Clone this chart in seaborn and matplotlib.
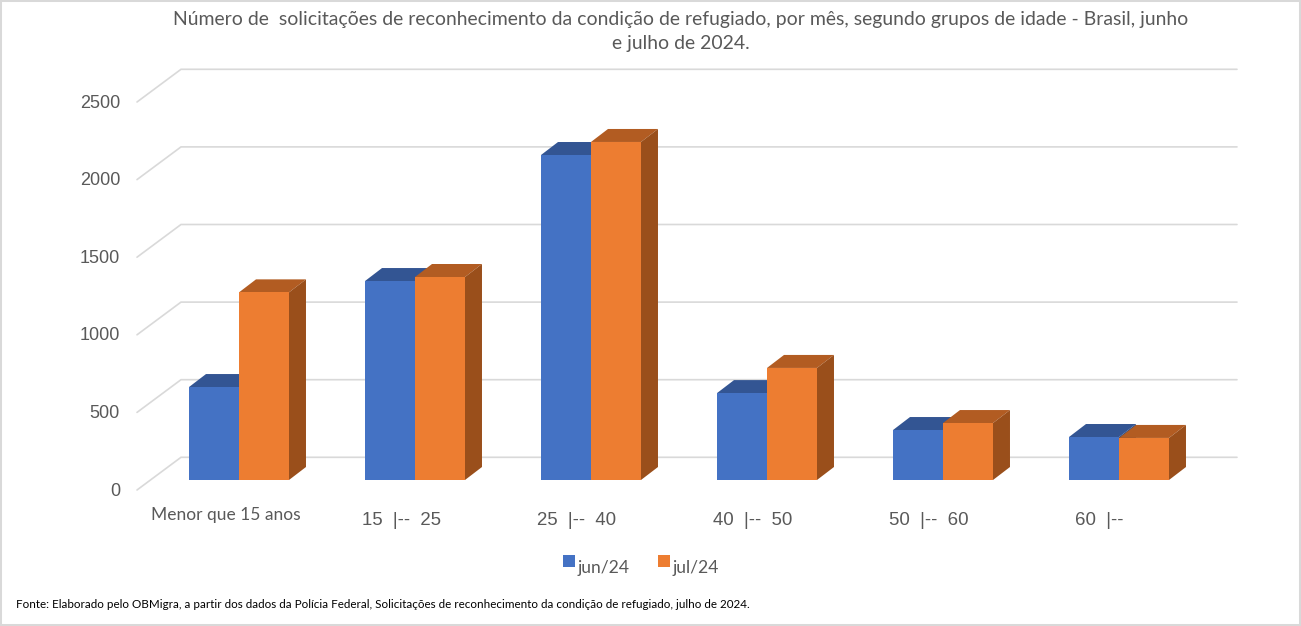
import matplotlib
matplotlib.use("Agg")
import matplotlib.pyplot as plt
import pandas as pd
import seaborn as sns
from matplotlib.patches import Polygon, Rectangle
from matplotlib.transforms import ScaledTranslation

# --------------------------
# Data
# --------------------------
age_groups = ["Menor que 15 anos", "15  |--  25", "25  |--  40", "40  |--  50", "50  |--  60", "60  |--"]
jun_24 = [599, 1282, 2094, 560, 322, 277]
jul_24 = [1209, 1308, 2178, 722, 367, 271]
y_ticks = [0, 500, 1000, 1500, 2000, 2500]
title = (
    "Número de  solicitações de reconhecimento da condição de refugiado, por mês, segundo grupos de idade - Brasil, junho\n"
    "e julho de 2024."
)
source = (
    "Fonte: Elaborado pelo OBMigra, a partir dos dados da Polícia Federal, "
    "Solicitações de reconhecimento da condição de refugiado, julho de 2024."
)

df = pd.DataFrame({"grupo": age_groups, "jun/24": jun_24, "jul/24": jul_24}).melt(
    id_vars="grupo", var_name="mes", value_name="n"
)

W, H = 1301, 626
PX_X = 176.0  # pixels per category
PX_Y = 388.0 / 2500  # pixels per unit
TEXT = "#595959"
GRID = "#d9d9d9"

sns.set_theme(style="white")
plt.rcParams["font.family"] = ["Lato", "DejaVu Sans"]

fig = plt.figure(figsize=(W / 100, H / 100), dpi=100)
ax = fig.add_axes([151 / W, (H - 480) / H, 1056 / W, 388 / H])

front = {"jun/24": "#4472c4", "jul/24": "#ed7d31"}
sns.barplot(
    data=df, x="grupo", y="n", hue="mes", palette=front, saturation=1,
    width=0.568, gap=0, ax=ax, zorder=4, linewidth=0,
)
ax.set_xlim(-0.5, 5.5)
ax.set_ylim(0, 2500)
ax.set_xlabel("")
ax.set_ylabel("")
sns.despine(ax=ax, left=True, bottom=True)

# --------------------------
# Fake 3D: top and side faces on each bar
# --------------------------
dx = 17 / PX_X
dy = 13 / PX_Y
tops = {"jun/24": "#335593", "jul/24": "#b25c22"}
sides = {"jun/24": "#2c4a80", "jul/24": "#9a4f1b"}
for container, mes, z in zip(ax.containers, ["jun/24", "jul/24"], [2, 3]):
    for bar in container:
        x0, x1, h = bar.get_x(), bar.get_x() + bar.get_width(), bar.get_height()
        ax.add_patch(Polygon([(x0, h), (x1, h), (x1 + dx, h + dy), (x0 + dx, h + dy)],
                             color=tops[mes], lw=0, zorder=z, clip_on=False))
        ax.add_patch(Polygon([(x1, 0), (x1 + dx, dy), (x1 + dx, h + dy), (x1, h)],
                             color=sides[mes], lw=0, zorder=z, clip_on=False))

# Gridlines run along the floor/left wall, then across the back wall
gx_front, gy_front = -14 / PX_X, -10 / PX_Y
gx_back, gy_back = 30 / PX_X, 22.7 / PX_Y
for v in y_ticks:
    ax.plot([-0.5 + gx_front, -0.5 + gx_back, 5.5 + gx_back],
            [v + gy_front, v + gy_back, v + gy_back],
            color=GRID, lw=1.2, zorder=1, clip_on=False, solid_joinstyle="miter")

# --------------------------
# Tick labels
# --------------------------
ax.set_yticks(y_ticks)
ax.tick_params(axis="y", length=0, pad=22.3)
for lab in ax.get_yticklabels():
    lab.set_family(["Liberation Sans"])
    lab.set_fontsize(13)
    lab.set_color(TEXT)
    lab.set_transform(lab.get_transform() + ScaledTranslation(0, -9 / 100, fig.dpi_scale_trans))

ax.set_xticks(range(len(age_groups)))
ax.set_xticklabels(age_groups)
ax.tick_params(axis="x", length=0, pad=23)
x_shift = [-13, -14, -14, -14, -14, -20]
for i, lab in enumerate(ax.get_xticklabels()):
    lab.set_color(TEXT)
    if i == 0:
        lab.set_fontsize(12.5)
        shift_y = 5
    else:
        lab.set_family(["Liberation Sans"])
        lab.set_fontsize(13.4)
        shift_y = 0
    lab.set_transform(lab.get_transform() + ScaledTranslation(x_shift[i] / 100, shift_y / 100, fig.dpi_scale_trans))

# --------------------------
# Title, legend, source, border
# --------------------------
fig.text(681 / W, 1 - 31.5 / H, title, ha="center", va="center", color=TEXT, fontsize=13.95, linespacing=1.52)

handles, labels = ax.get_legend_handles_labels()
leg = ax.legend(
    handles, labels, ncols=2, frameon=False, loc="center left",
    bbox_to_anchor=(563 / W, 1 - 568 / H), bbox_transform=fig.transFigure,
    handlelength=0.7, handleheight=0.7, handletextpad=0.12, columnspacing=1.65,
    borderpad=0, borderaxespad=0, labelcolor=TEXT, prop={"size": 12.6},
)
for p in leg.get_patches():
    p.set_linewidth(0)
    p.set_y(p.get_y() + 4)

fig.text(16 / W, 1 - 605 / H, source, ha="left", va="center", color="black", fontsize=8.38)
fig.add_artist(Rectangle((0, 0), 1, 1, transform=fig.transFigure, fill=False, edgecolor=GRID, lw=2.9))

fig.savefig("out.png", dpi=100)
